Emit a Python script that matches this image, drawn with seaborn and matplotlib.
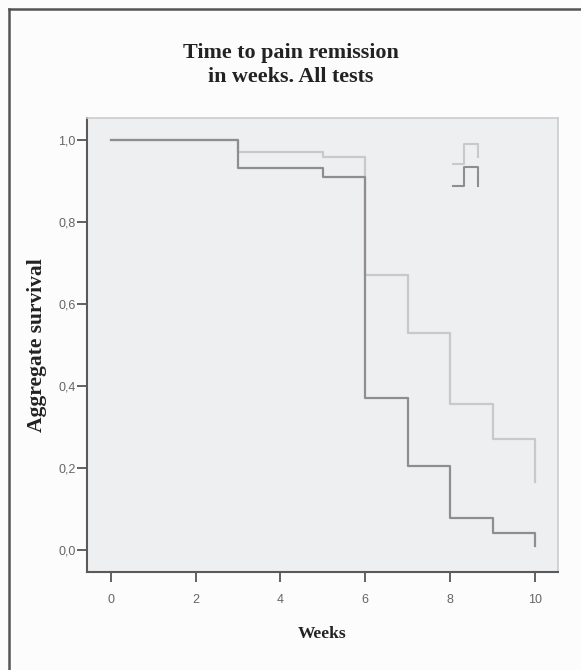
import pandas as pd
import matplotlib
matplotlib.use("Agg")
import matplotlib.pyplot as plt
import seaborn as sns
from matplotlib.lines import Line2D
from matplotlib.legend_handler import HandlerBase

# survival step data (weeks vs aggregate survival)
weeks = [0, 3, 5, 6, 7, 8, 9, 10]
survival_light = [1.0, 0.97, 0.96, 0.67, 0.53, 0.355, 0.27, 0.165]
survival_dark = [1.0, 0.932, 0.91, 0.371, 0.205, 0.078, 0.04, 0.01]
group_names = ["light", "dark"]
group_colors = {"light": "#c9c9c9", "dark": "#8e8e8e"}

x_ticks = [0, 2, 4, 6, 8, 10]
y_ticks = [0.0, 0.2, 0.4, 0.6, 0.8, 1.0]
y_tick_labels = ["0,0", "0,2", "0,4", "0,6", "0,8", "1,0"]

df = pd.concat([
    pd.DataFrame({"week": weeks, "survival": survival_light, "group": "light"}),
    pd.DataFrame({"week": weeks, "survival": survival_dark, "group": "dark"}),
])


class StepHandler(HandlerBase):
    # small step glyph used in the legend
    def create_artists(self, legend, orig_handle, xdescent, ydescent,
                       width, height, fontsize, trans):
        low = orig_handle.get_gid() == "dark"
        xs = [-xdescent, -xdescent + 0.45 * width, -xdescent + 0.45 * width,
              -xdescent + width, -xdescent + width]
        ys = [-ydescent, -ydescent, -ydescent + height, -ydescent + height,
              -ydescent + (0 if low else 0.35 * height)]
        line = Line2D(xs, ys, color=orig_handle.get_color(), lw=1.5,
                      transform=trans)
        return [line]


fig = plt.figure(figsize=(5.81, 6.70), dpi=100)
fig.patch.set_facecolor("#fcfcfc")
ax = fig.add_axes([0.1497, 0.1463, 0.8107, 0.6776])
ax.set_facecolor("#eeeff0")

sns.lineplot(data=df, x="week", y="survival", hue="group", palette=group_colors,
             drawstyle="steps-post", sort=False, estimator=None, lw=1.6,
             legend=False, ax=ax)

ax.set_xlim(-0.56, 10.54)
ax.set_ylim(-0.054, 1.054)
ax.set_xticks(x_ticks)
ax.set_xticklabels([str(t) for t in x_ticks])
ax.set_yticks(y_ticks)
ax.set_yticklabels(y_tick_labels)
ax.tick_params(axis="both", direction="out", length=7, width=1.3,
               color="#555555", labelcolor="#666666", labelsize=9)
ax.tick_params(axis="x", pad=9)
ax.tick_params(axis="y", pad=1)
for lbl in ax.get_xticklabels() + ax.get_yticklabels():
    lbl.set_family("Liberation Sans")

for side in ["left", "bottom"]:
    ax.spines[side].set_color("#5a5a5a")
    ax.spines[side].set_linewidth(1.5)
for side in ["top", "right"]:
    ax.spines[side].set_color("#cccccc")
    ax.spines[side].set_linewidth(1.2)

ax.set_xlabel("Weeks", family="Liberation Serif", fontweight="bold",
              fontsize=12.5, labelpad=14, color="#222222")
ax.set_ylabel("Aggregate survival", family="Liberation Serif", fontweight="bold",
              fontsize=15.5, labelpad=8, color="#222222")
fig.text(0.5, 0.903, "Time to pain remission\nin weeks. All tests",
         ha="center", va="center", family="Liberation Serif", fontweight="bold",
         fontsize=15.8, linespacing=1.3, color="#222222")

handles = []
for g in group_names:
    h = Line2D([], [], color=group_colors[g])
    h.set_gid(g)
    handles.append(h)
ax.legend(handles, ["", ""], handler_map={Line2D: StepHandler()},
          loc="upper left", bbox_to_anchor=(0.765, 0.954), frameon=False,
          fontsize=8, handlelength=2.3, handleheight=2.3, labelspacing=0.3,
          handletextpad=0, borderpad=0)

# page border lines (left and top)
fig.add_artist(Line2D([0.0147, 0.0147], [0.0, 0.9866], transform=fig.transFigure,
                      color="#555555", lw=1.8))
fig.add_artist(Line2D([0.0147, 1.0], [0.9866, 0.9866], transform=fig.transFigure,
                      color="#555555", lw=1.8))

fig.savefig("out.png", dpi=100, facecolor=fig.get_facecolor())
